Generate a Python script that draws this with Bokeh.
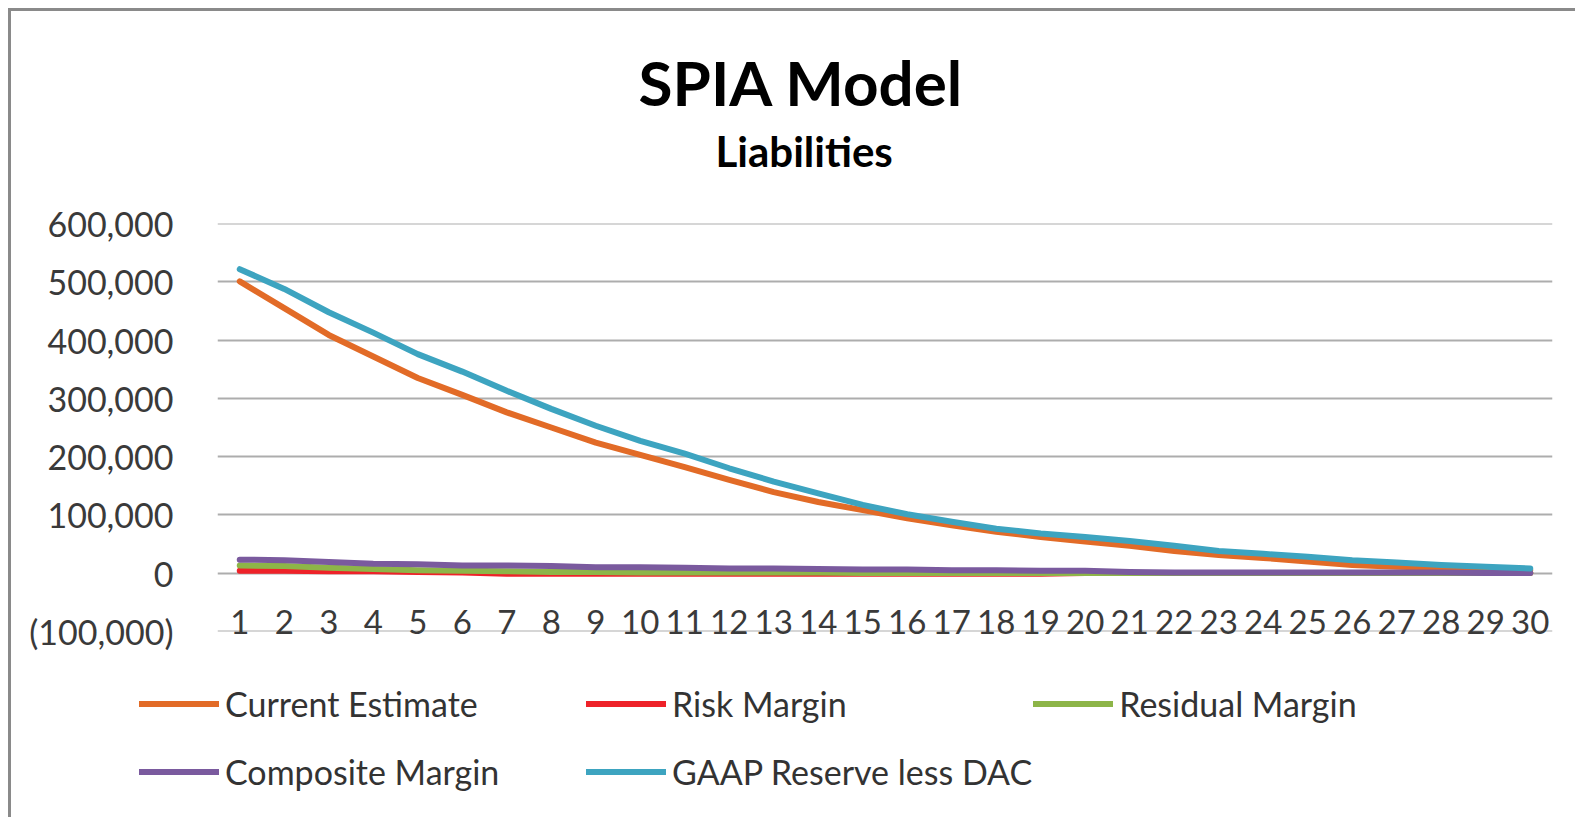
from bokeh.plotting import figure
from bokeh.models import (FactorRange, Range1d, FixedTicker, NumeralTickFormatter,
                          Legend, LegendItem, Title)
from bokeh.layouts import column
from bokeh.embed import file_html
from bokeh.resources import INLINE

# ---- data (values in currency units) ----
years = [str(i) for i in range(1, 31)]
current_estimate = [501000, 455000, 409000, 372000, 335000, 306000, 276000, 250000, 224000, 203000,
                    182000, 160000, 139000, 122000, 108000, 94000, 82000, 71000, 62000, 54000,
                    47000, 38000, 31000, 26000, 20000, 14000, 11000, 9000, 7000, 5000]
risk_margin = [4000, 4000, 3000, 3000, 2000, 1000, -1000, -1000, -1000, -1000,
               -1000, -1000, -1000, -1000, -1000, -1000, -1000, -1000, -1000, 0,
               0, 0, 0, 0, 0, 0, 0, 0, 0, 0]
residual_margin = [13000, 12000, 9000, 7000, 5000, 4000, 3000, 2000, 2000, 1000,
                   1000, 1000, 1000, 1000, 0, 0, 0, 0, 0, 0,
                   0, 0, 0, 0, 0, 0, 0, 0, 0, 0]
composite_margin = [23000, 22000, 19000, 16000, 15000, 13000, 13000, 12000, 10000, 10000,
                    9000, 8000, 8000, 7000, 6000, 6000, 5000, 5000, 4000, 4000,
                    2000, 1000, 1000, 1000, 1000, 1000, 1000, 1000, 0, 0]
gaap_reserve = [522000, 488000, 448000, 413000, 376000, 346000, 313000, 282000, 253000, 227000,
                205000, 180000, 157000, 137000, 117000, 101000, 88000, 76000, 68000, 62000,
                55000, 47000, 38000, 33000, 28000, 22000, 18000, 14000, 11000, 8000]
y_ticks = [-100000, 0, 100000, 200000, 300000, 400000, 500000, 600000]

series_names = ["Current Estimate", "Risk Margin", "Residual Margin",
                "Composite Margin", "GAAP Reserve less DAC"]
series_values = [current_estimate, risk_margin, residual_margin, composite_margin, gaap_reserve]
series_colors = ["#E26B27", "#EE2229", "#8DB548", "#7A5A9E", "#3DA4C0"]

FONT = "Lato"
BORDER = "3px solid #8a8a8a"

# ---------------- main chart ----------------
p = figure(width=1567, height=650,
           x_range=FactorRange(factors=years, range_padding=0),
           y_range=Range1d(-100400, 600400),
           output_backend="svg", toolbar_location=None,
           min_border_left=206, min_border_right=26,
           min_border_bottom=30, min_border_top=212)
p.styles = {"border-left": BORDER, "border-top": BORDER}
p.background_fill_color = "white"
p.border_fill_color = "white"
p.outline_line_color = None

p.title.text = "SPIA Model"
p.title.align = "left"
p.title.offset = 421
p.title.text_font = FONT
p.title.text_font_size = "62px"
p.title.text_font_style = "bold"
p.title.text_color = "#000000"
p.title.standoff = -84
p.add_layout(Title(text="Liabilities", align="left", offset=498, text_font=FONT,
                   text_font_size="42px", text_font_style="bold", text_color="#000000",
                   standoff=95), "above")

p.yaxis.ticker = FixedTicker(ticks=y_ticks)
p.yaxis.formatter = NumeralTickFormatter(format="(0,0)")
p.yaxis.major_label_text_font = FONT
p.yaxis.major_label_text_font_size = "34px"
p.yaxis.major_label_text_color = "#3a3a3a"
p.yaxis.major_label_standoff = 44
p.yaxis.major_tick_out = 0
p.yaxis.major_tick_in = 0
p.yaxis.minor_tick_out = 0
p.yaxis.minor_tick_in = 0
p.yaxis.major_tick_line_color = None
p.yaxis.minor_tick_line_color = None
p.yaxis.axis_line_color = None

p.xaxis.major_label_text_font = FONT
p.xaxis.major_label_text_font_size = "33px"
p.xaxis.major_label_text_color = "#3a3a3a"
p.xaxis.major_label_standoff = -22
p.xaxis.major_tick_out = 0
p.xaxis.major_tick_in = 0
p.xaxis.major_tick_line_color = None
p.xaxis.axis_line_color = None

p.xgrid.grid_line_color = None
p.ygrid.ticker = FixedTicker(ticks=y_ticks)
p.ygrid.grid_line_color = "#ADADAD"
p.ygrid.grid_line_width = 2

for vals, color in zip(series_values, series_colors):
    p.line(x=years, y=vals, line_color=color, line_width=6,
           line_cap="round", line_join="round")

# ---------------- legend strip ----------------
p2 = figure(width=1567, height=159,
            x_range=FactorRange(factors=years, range_padding=0),
            y_range=Range1d(2000000, 3000000),
            x_axis_type=None, y_axis_type=None, output_backend="svg",
            toolbar_location=None, min_border=0)
p2.styles = {"border-left": BORDER}
p2.background_fill_color = "white"
p2.border_fill_color = "white"
p2.outline_line_color = None
p2.xgrid.visible = False
p2.ygrid.visible = False

for fig in (p, p2):
    if "frame_align" in fig.properties():
        fig.frame_align = False

items = []
for name, vals, color in zip(series_names, series_values, series_colors):
    # legend proxies: the same series, drawn outside this strip's visible range
    r = p2.line(x=years, y=vals, line_color=color, line_width=6, line_cap="round")
    items.append(LegendItem(label=name, renderers=[r]))

legend = Legend(items=items, location=(128, 12), orientation="horizontal", ncols=3,
                glyph_width=80, glyph_height=67, label_standoff=6, label_width=360,
                spacing=1, padding=0, margin=0,
                label_text_font=FONT, label_text_font_size="34px", label_text_color="#333333",
                border_line_color=None, background_fill_alpha=0)
p2.add_layout(legend, "center")

layout = column(p, p2, spacing=0, styles={"margin-left": "8px", "margin-top": "8px"})

open("out.html", "w").write(file_html(layout, INLINE))
